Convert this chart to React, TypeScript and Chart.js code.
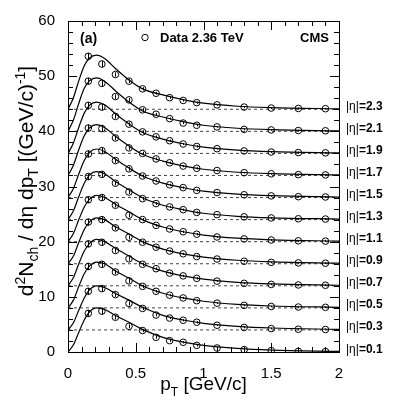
import React, { useEffect, useRef } from 'react';
import { Chart, registerables } from 'chart.js';

Chart.register(...registerables);

const FONT = '"Liberation Sans", Arial, Helvetica, sans-serif';

// |eta| bins, vertical offsets applied in the figure
const ETA_LABELS = ['0.1', '0.3', '0.5', '0.7', '0.9', '1.1', '1.3', '1.5', '1.7', '1.9', '2.1', '2.3'];
const OFFSETS = [0, 4, 8, 12, 16, 20, 24, 28, 32, 36, 40, 44];

// data points (pT bins) and values relative to each offset
const PT = [0.15, 0.25, 0.35, 0.45, 0.55, 0.65, 0.75, 0.85, 0.95, 1.1, 1.3, 1.5, 1.7, 1.9];
const ERR = [0.6, 0.6, 0.4, 0.35, 0.3, 0.25, 0.2, 0.2, 0.2, 0.15, 0.15, 0.15, 0.15, 0.15];

const DATA_ETA01 = [7.0, 7.4, 6.3, 4.65, 3.9, 2.66, 2.06, 1.76, 1.2, 0.73, 0.43, 0.25, 0.12, 0.08];
const DATA_ETA03 = [7.0, 7.5, 6.4, 4.8, 3.9, 2.7, 2.15, 1.75, 1.4, 0.85, 0.45, 0.25, 0.12, 0.08];
const DATA_ETA05 = [7.5, 7.9, 6.5, 4.9, 3.9, 3.0, 2.3, 1.8, 1.3, 0.85, 0.45, 0.25, 0.15, 0.1];
const DATA_ETA07 = [7.6, 7.9, 6.4, 4.9, 3.9, 3.1, 2.3, 1.8, 1.35, 0.85, 0.45, 0.25, 0.15, 0.1];
const DATA_ETA09 = [7.55, 8.0, 6.5, 4.8, 3.9, 3.0, 2.3, 1.8, 1.3, 0.85, 0.45, 0.25, 0.15, 0.1];
const DATA_ETA11 = [7.6, 8.0, 6.6, 4.8, 4.0, 2.95, 2.3, 1.8, 1.35, 0.85, 0.5, 0.3, 0.15, 0.1];
const DATA_ETA13 = [7.8, 8.2, 6.6, 5.0, 3.8, 2.9, 2.3, 1.8, 1.3, 0.9, 0.5, 0.3, 0.15, 0.1];
const DATA_ETA15 = [7.9, 8.5, 6.7, 5.2, 3.9, 3.0, 2.3, 1.8, 1.3, 0.9, 0.5, 0.3, 0.15, 0.1];
const DATA_ETA17 = [8.6, 8.5, 6.8, 5.0, 4.0, 3.0, 2.3, 1.7, 1.3, 0.9, 0.5, 0.3, 0.15, 0.1];
const DATA_ETA19 = [8.7, 8.4, 6.7, 5.3, 3.9, 3.0, 2.3, 1.7, 1.25, 0.85, 0.45, 0.25, 0.15, 0.1];
const DATA_ETA21 = [9.1, 8.7, 6.3, 5.7, 3.9, 3.1, 2.3, 1.5, 1.1, 0.8, 0.35, 0.25, 0.15, 0.1];
const DATA_ETA23 = [9.6, 8.2, 6.3, 5.1, 3.7, 2.9, 2.1, 1.6, 1.2, 0.8, 0.4, 0.22, 0.15, 0.1];

const DATA_SERIES = [
  DATA_ETA01, DATA_ETA03, DATA_ETA05, DATA_ETA07, DATA_ETA09, DATA_ETA11,
  DATA_ETA13, DATA_ETA15, DATA_ETA17, DATA_ETA19, DATA_ETA21, DATA_ETA23,
];

// fit curves (relative to each offset)
const CURVE_PT = [0, 0.04, 0.08, 0.12, 0.16, 0.21, 0.27, 0.35, 0.45, 0.55, 0.7, 0.85, 1.0, 1.25, 1.5, 2.0];
const FIT_ETA01 = [0, 1.3, 3.6, 5.8, 7.3, 8.0, 7.7, 6.6, 5.4, 4.1, 2.65, 1.8, 1.2, 0.65, 0.35, 0.1];
const FIT_ETA03 = [0, 1.3, 3.6, 5.8, 7.3, 8.0, 7.7, 6.6, 5.4, 4.1, 2.65, 1.8, 1.2, 0.65, 0.35, 0.1];
const FIT_ETA05 = [0, 1.4, 3.9, 6.2, 7.6, 8.3, 8.0, 6.7, 5.4, 4.0, 2.65, 1.8, 1.2, 0.63, 0.34, 0.1];
const FIT_ETA07 = [0, 1.5, 4.0, 6.3, 7.7, 8.4, 8.0, 6.8, 5.4, 4.0, 2.65, 1.8, 1.2, 0.63, 0.34, 0.1];
const FIT_ETA09 = [0, 1.4, 3.9, 6.2, 7.6, 8.3, 8.0, 6.7, 5.4, 4.0, 2.65, 1.8, 1.2, 0.63, 0.34, 0.1];
const FIT_ETA11 = [0, 1.5, 4.0, 6.3, 7.7, 8.4, 8.0, 6.8, 5.4, 4.0, 2.65, 1.8, 1.2, 0.63, 0.34, 0.1];
const FIT_ETA13 = [0, 1.6, 4.2, 6.6, 8.1, 8.7, 8.3, 6.9, 5.4, 3.95, 2.6, 1.8, 1.15, 0.6, 0.33, 0.09];
const FIT_ETA15 = [0, 1.65, 4.3, 6.7, 8.2, 8.8, 8.35, 6.95, 5.35, 3.9, 2.6, 1.8, 1.15, 0.6, 0.33, 0.09];
const FIT_ETA17 = [0, 1.85, 4.7, 7.2, 8.65, 9.2, 8.7, 7.1, 5.35, 3.85, 2.6, 1.75, 1.13, 0.58, 0.32, 0.09];
const FIT_ETA19 = [0, 1.9, 4.75, 7.3, 8.75, 9.3, 8.8, 7.2, 5.35, 3.8, 2.6, 1.75, 1.13, 0.58, 0.31, 0.09];
const FIT_ETA21 = [0, 2.05, 5.1, 7.8, 9.2, 9.7, 9.1, 7.35, 5.3, 3.7, 2.6, 1.75, 1.1, 0.56, 0.3, 0.08];
const FIT_ETA23 = [0, 2.1, 5.2, 7.9, 9.3, 9.8, 9.2, 7.4, 5.3, 3.7, 2.6, 1.75, 1.1, 0.55, 0.3, 0.08];

const FIT_SERIES = [
  FIT_ETA01, FIT_ETA03, FIT_ETA05, FIT_ETA07, FIT_ETA09, FIT_ETA11,
  FIT_ETA13, FIT_ETA15, FIT_ETA17, FIT_ETA19, FIT_ETA21, FIT_ETA23,
];

const X_MIN = 0, X_MAX = 2, Y_MIN = 0, Y_MAX = 60;
const X_TICKS = [0, 0.5, 1, 1.5, 2];
const Y_TICKS = [0, 10, 20, 30, 40, 50, 60];

type Seg = { t: string; s?: number; dy?: number };

function drawRich(ctx: CanvasRenderingContext2D, segs: Seg[], size: number, x: number, y: number) {
  const widths = segs.map((g) => {
    ctx.font = `${Math.round(size * (g.s || 1))}px ${FONT}`;
    return ctx.measureText(g.t).width;
  });
  const total = widths.reduce((a, b) => a + b, 0);
  let cx = x - total / 2;
  segs.forEach((g, i) => {
    ctx.font = `${Math.round(size * (g.s || 1))}px ${FONT}`;
    ctx.fillText(g.t, cx, y + (g.dy || 0) * size);
    cx += widths[i];
  });
}

const decorPlugin = {
  id: 'decor',
  afterDatasetsDraw(chart: any) {
    const { ctx, scales } = chart;
    const xs = scales.x, ys = scales.y;
    ctx.save();
    ctx.strokeStyle = '#000';
    ctx.lineWidth = 1;
    DATA_SERIES.forEach((vals, i) => {
      vals.forEach((v, j) => {
        const px = Math.round(xs.getPixelForValue(PT[j])) + 0.5;
        const y1 = ys.getPixelForValue(OFFSETS[i] + v - ERR[j]);
        const y2 = ys.getPixelForValue(OFFSETS[i] + v + ERR[j]);
        ctx.beginPath();
        ctx.moveTo(px, y1);
        ctx.lineTo(px, y2);
        ctx.stroke();
      });
    });
    ctx.restore();
  },
  afterDraw(chart: any) {
    const { ctx, chartArea: a, scales } = chart;
    const xs = scales.x, ys = scales.y;
    ctx.save();
    ctx.strokeStyle = '#000';
    ctx.lineWidth = 1;
    // frame
    ctx.strokeRect(Math.round(a.left) + 0.5, Math.round(a.top) + 0.5, Math.round(a.right - a.left), Math.round(a.bottom - a.top));
    // x ticks (bottom & top)
    ctx.beginPath();
    for (let i = 0; i <= 20; i++) {
      const v = i / 10;
      const major = i % 5 === 0;
      const len = major ? 9 : 5;
      const px = Math.round(xs.getPixelForValue(v)) + 0.5;
      ctx.moveTo(px, a.bottom);
      ctx.lineTo(px, a.bottom - len);
      ctx.moveTo(px, a.top);
      ctx.lineTo(px, a.top + len);
    }
    // y ticks (left & right)
    for (let i = 0; i <= 30; i++) {
      const v = i * 2;
      const major = i % 5 === 0;
      const len = major ? 9 : 5;
      const py = Math.round(ys.getPixelForValue(v)) + 0.5;
      ctx.moveTo(a.left, py);
      ctx.lineTo(a.left + len, py);
      ctx.moveTo(a.right, py);
      ctx.lineTo(a.right - len, py);
    }
    ctx.stroke();

    ctx.fillStyle = '#000';
    // eta labels
    ctx.textBaseline = 'middle';
    ctx.textAlign = 'left';
    ETA_LABELS.forEach((lab, i) => {
      const py = ys.getPixelForValue(OFFSETS[i] + 0.5);
      ctx.font = `12px ${FONT}`;
      const pre = '|\u03b7|';
      ctx.fillText(pre, a.right + 7, py);
      const w = ctx.measureText(pre).width;
      ctx.font = `bold 12px ${FONT}`;
      ctx.fillText('=' + lab, a.right + 7 + w, py);
    });

    // top texts
    ctx.textBaseline = 'alphabetic';
    ctx.font = `bold 14px ${FONT}`;
    ctx.fillText('(a)', a.left + 12, a.top + 22);
    ctx.font = `bold 13px ${FONT}`;
    ctx.fillText('Data 2.36 TeV', a.left + 92, a.top + 21);
    ctx.fillText('CMS', a.left + 232, a.top + 21);
    ctx.beginPath();
    ctx.arc(a.left + 77, a.top + 16.5, 3.2, 0, Math.PI * 2);
    ctx.stroke();

    // x title
    drawRich(ctx, [
      { t: 'p' }, { t: 'T', s: 0.65, dy: 0.3 }, { t: ' [GeV/c]' },
    ], 19, (a.left + a.right) / 2, 390);

    // y title
    ctx.save();
    ctx.translate(33, 181);
    ctx.rotate(-Math.PI / 2);
    drawRich(ctx, [
      { t: 'd' }, { t: '2', s: 0.65, dy: -0.4 }, { t: 'N' }, { t: 'ch', s: 0.65, dy: 0.25 },
      { t: ' / d\u03b7 dp' }, { t: 'T', s: 0.65, dy: 0.25 }, { t: ' [(GeV/c)' },
      { t: '-1', s: 0.65, dy: -0.4 }, { t: ']' },
    ], 21, 0, 0);
    ctx.restore();
    ctx.restore();
  },
};

export default function App() {
  const ref = useRef<HTMLCanvasElement>(null);
  useEffect(() => {
    if (!ref.current) return;
    const datasets: any[] = [];
    DATA_SERIES.forEach((vals, i) => {
      datasets.push({
        type: 'scatter',
        data: vals.map((v, j) => ({ x: PT[j], y: OFFSETS[i] + v })),
        showLine: false,
        pointStyle: 'circle',
        pointRadius: 3.3,
        pointBorderWidth: 1,
        pointBorderColor: '#000',
        pointBackgroundColor: 'rgba(0,0,0,0)',
        order: 0,
      });
    });
    FIT_SERIES.forEach((vals, i) => {
      datasets.push({
        type: 'line',
        data: vals.map((v, j) => ({ x: CURVE_PT[j], y: OFFSETS[i] + v })),
        borderColor: '#000',
        borderWidth: 1.2,
        pointRadius: 0,
        fill: false,
        cubicInterpolationMode: 'monotone',
        order: 1,
      });
    });
    OFFSETS.slice(1).forEach((o) => {
      datasets.push({
        type: 'line',
        data: [{ x: X_MIN, y: o }, { x: X_MAX, y: o }],
        borderColor: '#444',
        borderWidth: 1,
        borderDash: [3, 3],
        pointRadius: 0,
        fill: false,
        order: 2,
      });
    });

    const chart = new Chart(ref.current, {
      type: 'scatter',
      data: { datasets },
      options: {
        animation: false,
        responsive: false,
        devicePixelRatio: 1,
        layout: { padding: { top: 21, right: 60, left: 0, bottom: 0 } },
        plugins: { legend: { display: false }, tooltip: { enabled: false } },
        scales: {
          x: {
            type: 'linear',
            min: X_MIN,
            max: X_MAX,
            afterBuildTicks: (s: any) => { s.ticks = X_TICKS.map((v) => ({ value: v })); },
            ticks: {
              color: '#000', font: { family: FONT, size: 15 }, padding: 5, maxRotation: 0, autoSkip: false,
              callback: (v: any) => String(Number(v)),
            },
            grid: { display: false },
            border: { display: false },
            afterFit: (s: any) => { s.height = 63; },
          },
          y: {
            type: 'linear',
            min: Y_MIN,
            max: Y_MAX,
            afterBuildTicks: (s: any) => { s.ticks = Y_TICKS.map((v) => ({ value: v })); },
            ticks: {
              color: '#000', font: { family: FONT, size: 15 }, padding: 5, autoSkip: false,
              callback: (v: any) => String(Number(v)),
            },
            grid: { display: false },
            border: { display: false },
            afterFit: (s: any) => { s.width = 68; },
          },
        },
      } as any,
      plugins: [decorPlugin],
    });
    return () => chart.destroy();
  }, []);
  return (
    <div style={{ position: 'absolute', left: 0, top: 0, width: 399, height: 415, background: '#fff' }}>
      <canvas ref={ref} width={399} height={415} />
    </div>
  );
}
